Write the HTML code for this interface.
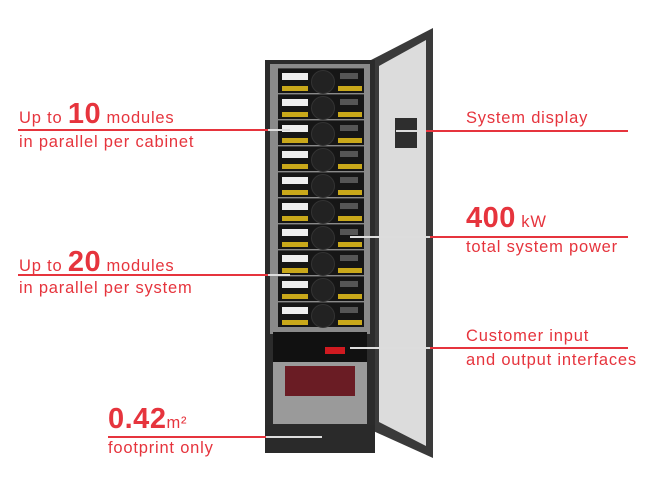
<!DOCTYPE html>
<html><head><meta charset="utf-8"><style>
body{margin:0;width:653px;height:487px;background:#fff;position:relative;overflow:hidden;font-family:"Liberation Sans",sans-serif}
.t{position:absolute;color:#e6343d;font-size:16.5px;letter-spacing:0.8px;white-space:nowrap;line-height:1}
.t b{font-size:29px;font-weight:bold;letter-spacing:0.5px}
.l{position:absolute;height:1.5px;background:#e6343d}
.g{position:absolute;height:1.5px;background:#ddd}
.mod{position:absolute;left:278px;width:86px;height:24px;background:#161616;border-top:1px solid #444}
.mod .w{position:absolute;left:4px;top:4px;width:26px;height:7px;background:#eee}
.mod .y{position:absolute;left:4px;top:17px;width:26px;height:5px;background:#c9a81a}
.mod .y2{position:absolute;left:60px;top:17px;width:24px;height:5px;background:#c9a81a}
.mod .f{position:absolute;left:33px;top:1px;width:22px;height:22px;border-radius:50%;background:#222;border:1px solid #333}
.mod .d{position:absolute;left:62px;top:4px;width:18px;height:6px;background:#555}
</style></head><body>
<svg style="position:absolute;left:0;top:0" width="653" height="487">
<polygon points="371,60 433,28 433,458 371,430" fill="#3a3a3a"/>
<polygon points="379,66 426,40 426,446 379,422" fill="#dcdcdc"/>
<rect x="395" y="118" width="22" height="30" fill="#2e2e2e"/>
<rect x="265" y="60" width="110" height="393" fill="#2b2b2b"/>
<rect x="270" y="64" width="100" height="270" fill="#8a8a8a"/>
<rect x="273" y="332" width="94" height="30" fill="#111"/>
<rect x="273" y="362" width="94" height="62" fill="#9a9a9a"/>
<rect x="285" y="366" width="70" height="30" fill="#6a1c24"/>
<rect x="325" y="347" width="20" height="7" fill="#d01a20"/>
<rect x="265" y="425" width="110" height="28" fill="#2a2a2a"/>
</svg>
<div class="mod" style="top:68px"><i class="w"></i><i class="y"></i><i class="f"></i><i class="d"></i><i class="y2"></i></div>
<div class="mod" style="top:94px"><i class="w"></i><i class="y"></i><i class="f"></i><i class="d"></i><i class="y2"></i></div>
<div class="mod" style="top:120px"><i class="w"></i><i class="y"></i><i class="f"></i><i class="d"></i><i class="y2"></i></div>
<div class="mod" style="top:146px"><i class="w"></i><i class="y"></i><i class="f"></i><i class="d"></i><i class="y2"></i></div>
<div class="mod" style="top:172px"><i class="w"></i><i class="y"></i><i class="f"></i><i class="d"></i><i class="y2"></i></div>
<div class="mod" style="top:198px"><i class="w"></i><i class="y"></i><i class="f"></i><i class="d"></i><i class="y2"></i></div>
<div class="mod" style="top:224px"><i class="w"></i><i class="y"></i><i class="f"></i><i class="d"></i><i class="y2"></i></div>
<div class="mod" style="top:250px"><i class="w"></i><i class="y"></i><i class="f"></i><i class="d"></i><i class="y2"></i></div>
<div class="mod" style="top:276px"><i class="w"></i><i class="y"></i><i class="f"></i><i class="d"></i><i class="y2"></i></div>
<div class="mod" style="top:302px"><i class="w"></i><i class="y"></i><i class="f"></i><i class="d"></i><i class="y2"></i></div>

<div class="t" style="left:19px;top:100px">Up to <b>10</b> modules</div>
<div class="l" style="left:18px;top:129px;width:250px"></div><div class="g" style="left:268px;top:129px;width:22px"></div>
<div class="t" style="left:19px;top:134px">in parallel per cabinet</div>

<div class="t" style="left:19px;top:248px">Up to <b>20</b> modules</div>
<div class="l" style="left:18px;top:274px;width:250px"></div><div class="g" style="left:268px;top:274px;width:22px"></div>
<div class="t" style="left:19px;top:280px">in parallel per system</div>

<div class="t" style="left:108px;top:405px"><b>0.42</b>m²</div>
<div class="l" style="left:108px;top:436px;width:158px"></div><div class="g" style="left:266px;top:436px;width:56px"></div>
<div class="t" style="left:108px;top:440px">footprint only</div>

<div class="t" style="left:466px;top:110px">System display</div>
<div class="g" style="left:396px;top:130px;width:30px"></div><div class="l" style="left:426px;top:130px;width:202px"></div>

<div class="t" style="left:466px;top:204px"><b>400</b> kW</div>
<div class="g" style="left:350px;top:236px;width:80px"></div><div class="l" style="left:430px;top:236px;width:198px"></div>
<div class="t" style="left:466px;top:239px">total system power</div>

<div class="t" style="left:466px;top:328px">Customer input</div>
<div class="g" style="left:350px;top:347px;width:80px"></div><div class="l" style="left:430px;top:347px;width:198px"></div>
<div class="t" style="left:466px;top:352px">and output interfaces</div>
</body></html>
